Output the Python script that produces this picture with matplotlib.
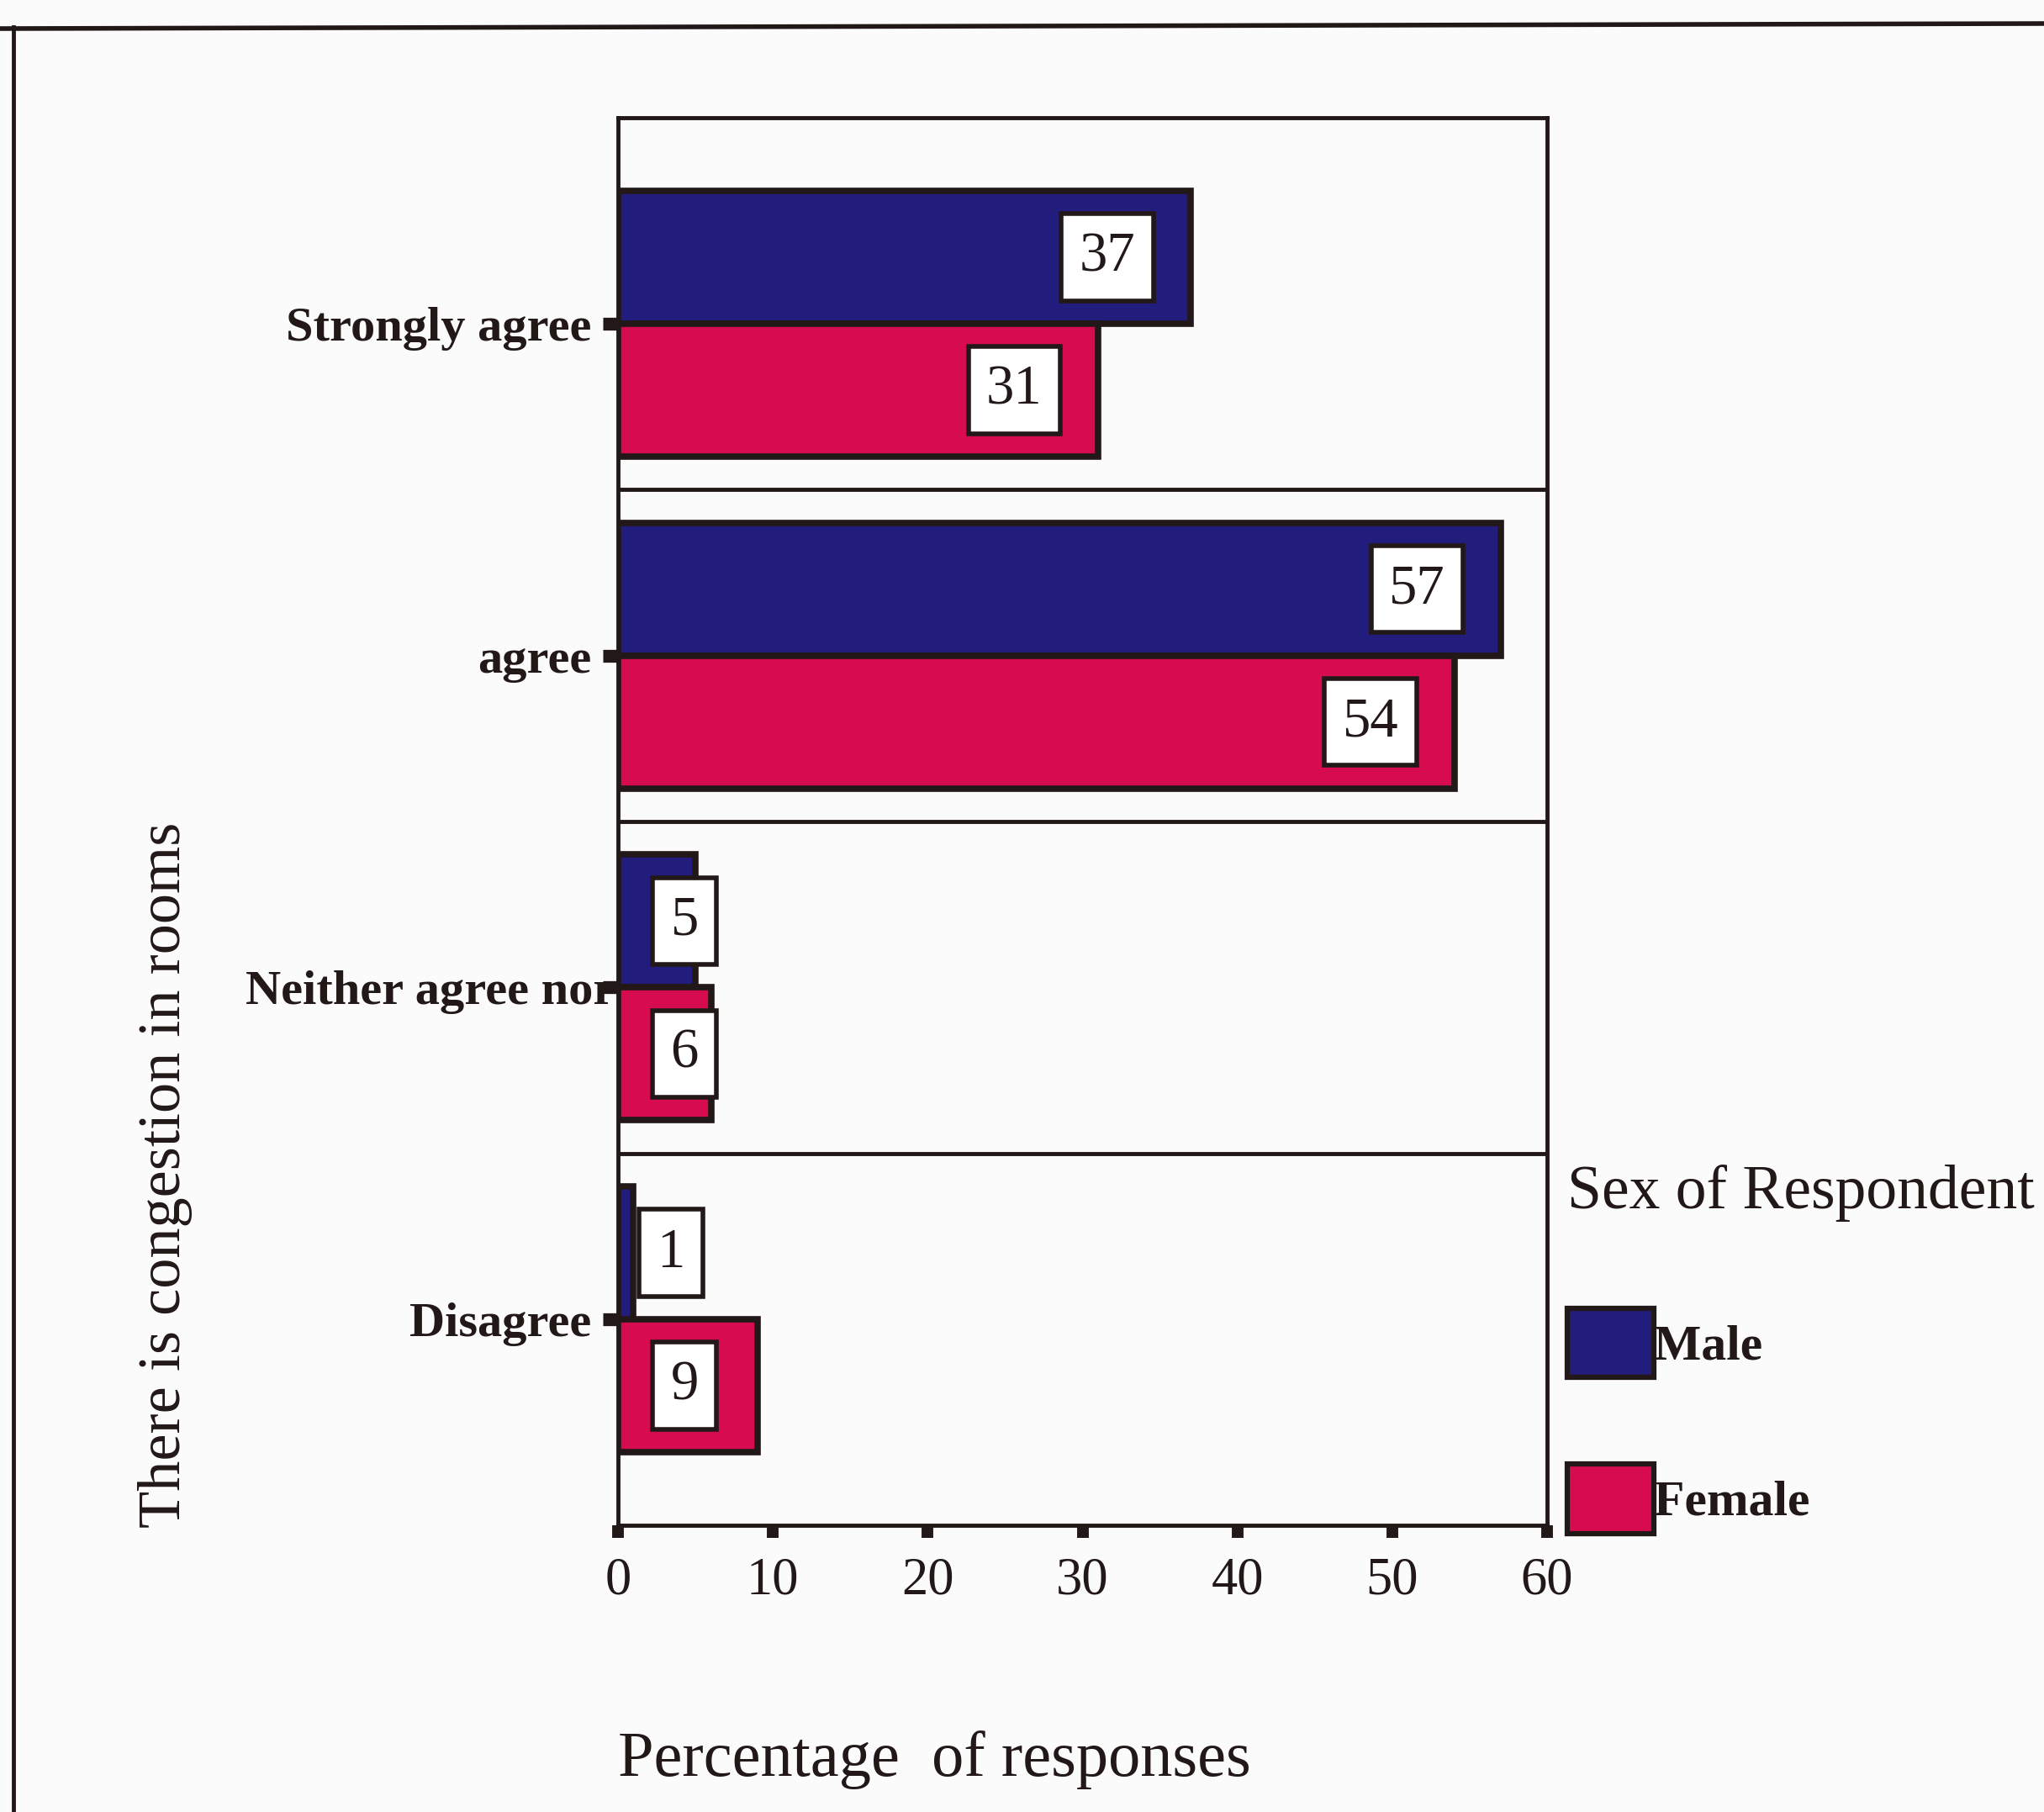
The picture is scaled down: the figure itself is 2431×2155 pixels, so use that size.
import numpy as np
import matplotlib
matplotlib.use("Agg")
import matplotlib.pyplot as plt
from matplotlib.font_manager import FontProperties
from matplotlib.lines import Line2D
from matplotlib.transforms import ScaledTranslation

# Survey responses: "There is congestion in rooms", by sex of respondent (%)
categories = ["Strongly agree", "agree", "Neither agree nor", "Disagree"]
male = [37, 57, 5, 1]
female = [31, 54, 6, 9]
series_names = ["Male", "Female"]
xticks = [0, 10, 20, 30, 40, 50, 60]

MALE_C = "#221c7c"
FEMALE_C = "#d70b4f"
INK = "#221818"
SERIF = "Liberation Serif"

W, H, DPI = 2431, 2155, 100
fig = plt.figure(figsize=(W / DPI, H / DPI), dpi=DPI, facecolor="#fbfbfb")

# page frame lines
fig.add_artist(Line2D([0, 1], [1 - 34 / H, 1 - 28 / H], transform=fig.transFigure,
                      color=INK, lw=4.0))
fig.add_artist(Line2D([16 / W, 16 / W], [0, 1 - 32 / H], transform=fig.transFigure,
                      color=INK, lw=3.5))

ax_l, ax_r, ax_t, ax_b = 735, 1840, 140, 1814
ax = fig.add_axes([ax_l / W, 1 - ax_b / H, (ax_r - ax_l) / W, (ax_b - ax_t) / H])
ax.set_facecolor("#fbfbfb")

y = np.arange(len(categories))
bar_h = 0.4
edge_lw = 5.5
mbars = ax.barh(y - bar_h / 2, male, height=bar_h, color=MALE_C, edgecolor=INK,
                linewidth=edge_lw, label=series_names[0], zorder=2)
fbars = ax.barh(y + bar_h / 2, female, height=bar_h, color=FEMALE_C, edgecolor=INK,
                linewidth=edge_lw, label=series_names[1], zorder=2)

# category separators
for b in y[:-1] + 0.5:
    ax.axhline(b, color=INK, lw=3.5, zorder=1)

ax.set_xlim(0, 60)
ax.set_ylim(len(categories) - 1 + 0.62, -0.62)

# value labels in white boxes near the bar ends
val_font = FontProperties(family=SERIF, size=48)
for offset, vals in ((-bar_h / 2, male), (bar_h / 2, female)):
    for yi, v in zip(y, vals):
        lx = v - 5.4 if v >= 10 else (3.4 if v < 3 else 4.3)
        ax.text(lx, yi + offset, str(v), ha="center", va="center",
                fontproperties=val_font, color=INK, zorder=4,
                bbox=dict(boxstyle="square,pad=0.32", fc="white", ec=INK, lw=4.0))

# axes styling
for s in ax.spines.values():
    s.set_linewidth(3.5)
    s.set_color(INK)

ax.set_xticks(xticks)
ax.set_xticklabels([str(t) for t in xticks], fontproperties=FontProperties(family=SERIF, size=45),
                   color=INK)
ax.tick_params(axis="x", length=11, width=10, pad=16, color=INK, direction="out")

ax.set_yticks(y)
ax.set_yticklabels(categories, fontproperties=FontProperties(family=SERIF, size=42, weight="bold"),
                   color=INK)
ax.tick_params(axis="y", length=13, width=11, pad=10, color=INK, direction="out")
# the long middle label runs up to the axis line
lbl = ax.get_yticklabels()[2]
lbl.set_transform(lbl.get_transform() + ScaledTranslation(28 / DPI, 0, fig.dpi_scale_trans))

ax.set_xlabel("Percentage  of responses", fontproperties=FontProperties(family=SERIF, size=55),
              color=INK)
ax.xaxis.label.set_va("center")
ax.xaxis.set_label_coords((1111 - ax_l) / (ax_r - ax_l), -(2093 - ax_b) / (ax_b - ax_t))

ax.set_ylabel("There is congestion in rooms", fontproperties=FontProperties(family=SERIF, size=52),
              color=INK)
ax.yaxis.label.set_va("center")
ax.yaxis.set_label_coords((197 - ax_l) / (ax_r - ax_l), (ax_b - 1397) / (ax_b - ax_t))

leg = fig.legend([mbars, fbars], series_names, loc="upper left",
                 bbox_to_anchor=(1864 / W, 1 - 1385 / H), frameon=False,
                 prop=FontProperties(family=SERIF, size=43, weight="bold"),
                 title="Sex of Respondent",
                 title_fontproperties=FontProperties(family=SERIF, size=53),
                 alignment="left", handlelength=1.73, handleheight=1.75,
                 handletextpad=0.0, labelspacing=1.72, borderpad=0, borderaxespad=0)
for t in leg.get_texts():
    t.set_color(INK)
leg.get_title().set_color(INK)
for h in leg.legend_handles:
    h.set_linewidth(4.5)

fig.savefig("out.png", dpi=DPI, facecolor=fig.get_facecolor())
